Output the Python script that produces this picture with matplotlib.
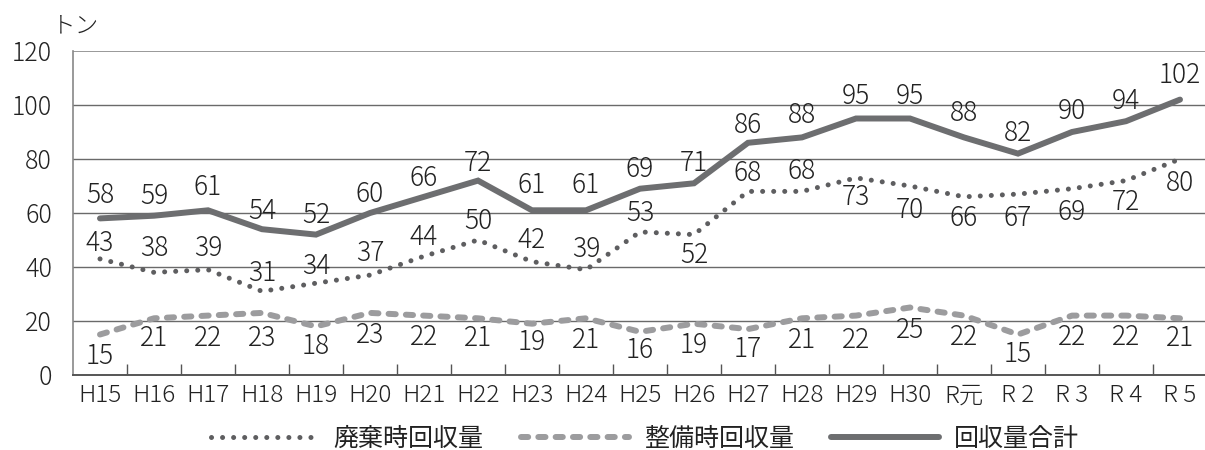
import matplotlib
matplotlib.use("Agg")
import matplotlib.pyplot as plt
from matplotlib.lines import Line2D

plt.rcParams['font.family'] = ['Noto Sans CJK JP', 'DejaVu Sans']
plt.rcParams['font.weight'] = 'light'

categories = ["H15", "H16", "H17", "H18", "H19", "H20", "H21", "H22", "H23", "H24",
              "H25", "H26", "H27", "H28", "H29", "H30", "R元", "R 2", "R 3", "R 4", "R 5"]
haiki = [43, 38, 39, 31, 34, 37, 44, 50, 42, 39, 53, 52, 68, 68, 73, 70, 66, 67, 69, 72, 80]
seibi = [15, 21, 22, 23, 18, 23, 22, 21, 19, 21, 16, 19, 17, 21, 22, 25, 22, 15, 22, 22, 21]
total = [58, 59, 61, 54, 52, 60, 66, 72, 61, 61, 69, 71, 86, 88, 95, 95, 88, 82, 90, 94, 102]
yticks = [0, 20, 40, 60, 80, 100, 120]
legend_labels = ["廃棄時回収量", "整備時回収量", "回収量合計"]
unit_label = "トン"

# label offsets in pixels (positive = up)
off_total = [23, 20, 23, 18, 20, 19, 19, 18, 25, 25, 20, 20, 18, 22, 23, 23, 24, 21, 21, 20, 25]
off_haiki = [16, 24, 22, 18, 17, 22, 19, 19, 22, 21, 19, -20, 18, 20, -19, -24, -21, -24, -23, -21, -24]
off_seibi = [-21, -20, -22, -25, -20, -22, -21, -20, -18, -22, -18, -21, -20, -22, -24, -22, -21, -20, -21, -21, -20]

fig = plt.figure(figsize=(12.05, 4.5), dpi=100)
ax = fig.add_axes([73/1205, 75/450, 1132/1205, 324/450])

x = list(range(len(categories)))

c_total = "#6d6e70"
c_haiki = "#5e5e60"
c_seibi = "#9c9c9e"

ax.plot(x, total, color=c_total, lw=4.3, solid_capstyle='round', solid_joinstyle='miter', zorder=4)
ax.plot(x, haiki, color=c_haiki, lw=3.6, linestyle=(0, (0.01, 2.2)), dash_capstyle='round', zorder=4)
ax.plot(x, seibi, color=c_seibi, lw=4.3, linestyle=(0, (1.2, 1.7)), dash_capstyle='round', zorder=4)

for xs, vals, offs in [(x, total, off_total), (x, haiki, off_haiki), (x, seibi, off_seibi)]:
    for xi, v, o in zip(xs, vals, offs):
        ax.annotate(str(v), (xi, v), xytext=(0, o), textcoords='offset pixels',
                    ha='center', va='center', fontsize=19, color='#222222', zorder=5)

ax.set_xlim(-0.5, -0.5 + 1132/54)
ax.set_ylim(0, 120)
ax.set_yticks(yticks)
ax.set_yticklabels([str(t) for t in yticks], fontsize=18, color='#222222')
ax.set_xticks(x)
ax.set_xticklabels(categories, fontsize=17.5, color='#222222')
ax.set_xticks([i + 0.5 for i in x[:-1]], minor=True)
ax.tick_params(axis='x', which='major', length=0, pad=6)
ax.tick_params(axis='x', which='minor', direction='in', length=8, width=1, color='#555555')
ax.tick_params(axis='y', length=0, pad=15)

for t in yticks[1:]:
    ax.axhline(t, color='#999999' if t == 120 else '#6a6a6a', lw=1.0 if t != 120 else 1.4, zorder=1)

for s in ['top', 'right']:
    ax.spines[s].set_visible(False)
ax.spines['left'].set_color('#888888')
ax.spines['left'].set_linewidth(1.2)
ax.spines['bottom'].set_color('#555555')
ax.spines['bottom'].set_linewidth(1.4)

fig.text(52/1205, 1 - 26/450, unit_label, fontsize=17, color='#222222', ha='left', va='center')

handles = [
    Line2D([], [], color=c_haiki, lw=3.6, linestyle=(0, (0.01, 2.2)), dash_capstyle='round'),
    Line2D([], [], color=c_seibi, lw=4.3, linestyle=(0, (1.2, 1.7)), dash_capstyle='round'),
    Line2D([], [], color=c_total, lw=4.3, solid_capstyle='round'),
]
fig.legend(handles, legend_labels, loc='center', bbox_to_anchor=(645/1205, 1 - 439/450),
           ncol=3, frameon=False, fontsize=18, handlelength=4.3, handletextpad=0.6,
           columnspacing=1.5, labelcolor='#222222', prop={'weight': 'normal', 'size': 18})

fig.savefig("out.png", dpi=100)
